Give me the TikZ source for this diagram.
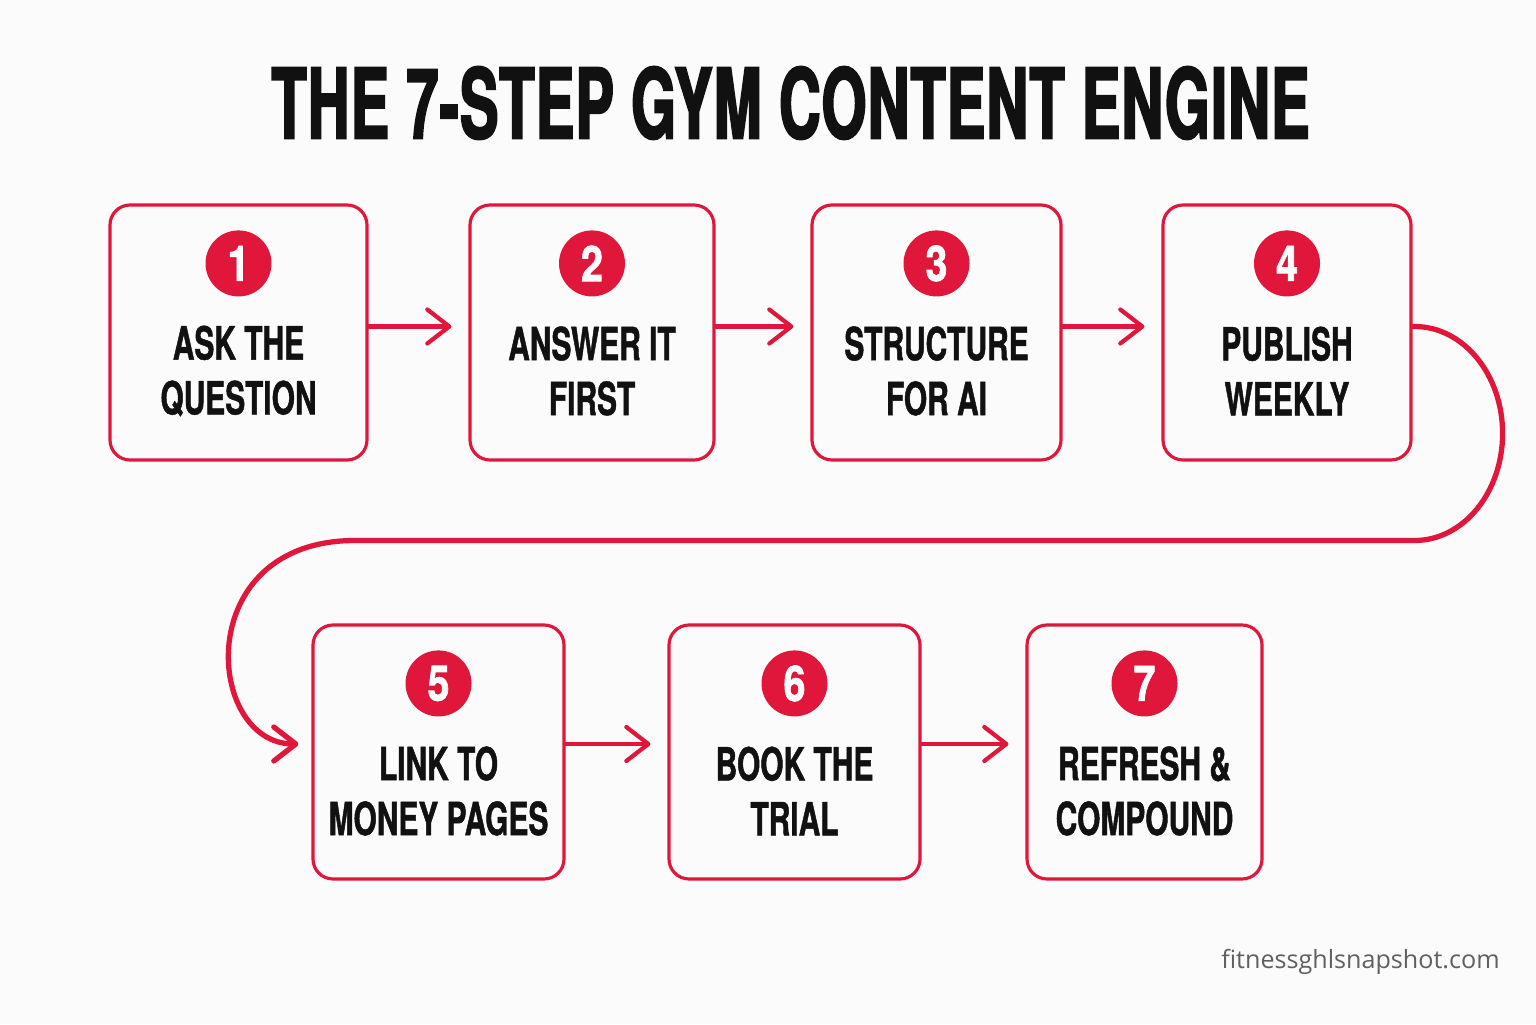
\documentclass[tikz,border=0pt]{standalone}
\usepackage{fontspec}
\setmainfont{TeX Gyre Heros}
\newfontfamily\titlefont{TeX Gyre Heros}[FakeStretch=0.595, BoldFeatures={FakeBold=2}, LetterSpace=1.2]
\newfontfamily\condfont{TeX Gyre Heros}[FakeStretch=0.655, BoldFeatures={FakeBold=1}]
\newfontfamily\numfont{TeX Gyre Heros}[FakeStretch=0.8, BoldFeatures={FakeBold=1.5}]
\newfontfamily\sitefont{Open Sans}
\usepackage{xcolor}
\usepackage{tikz}
\usetikzlibrary{arrows.meta,positioning}
\definecolor{gymred}{RGB}{224,22,58}
\definecolor{paper}{RGB}{251,251,251}
\definecolor{ink}{RGB}{17,17,17}

\begin{document}
\begin{tikzpicture}[
    stepbox/.style={rectangle, draw=gymred, fill=paper, line width=0.9pt, rounded corners=0.2cm, minimum height=2.55cm},
    num/.style={circle, fill=gymred, text=white, minimum size=0.66cm, inner sep=0pt, font=\numfont\bfseries\fontsize{14}{14}\selectfont},
    steptext/.style={align=center, text=ink, inner sep=0pt, font=\condfont\bfseries\fontsize{13}{15.6}\selectfont},
    arrow/.style={-{Straight Barb[length=2.2mm, width=3.4mm, round]}, gymred, line width=1.2pt, line cap=round, shorten >=0.17cm}]

\fill[paper] (0,0) rectangle (15.36,10.24);
\useasboundingbox (0,0) rectangle (15.36,10.24);

% Title
\node[text=ink, font=\titlefont\bfseries\fontsize{27.6}{28}\selectfont] (title) at (7.905, 9.21) {THE 7-STEP GYM CONTENT ENGINE};

% Top row
\node[stepbox, minimum width=2.57cm] (b1) at (2.385, 6.915) {};
\node[stepbox, minimum width=2.44cm] (b2) at (5.92, 6.915) {};
\node[stepbox, minimum width=2.49cm] (b3) at (9.365, 6.915) {};
\node[stepbox, minimum width=2.48cm] (b4) at (12.87, 6.915) {};

% Bottom row
\node[stepbox, minimum width=2.51cm, minimum height=2.54cm] (b5) at (4.385, 2.72) {};
\node[stepbox, minimum width=2.51cm, minimum height=2.54cm] (b6) at (7.945, 2.72) {};
\node[stepbox, minimum width=2.35cm, minimum height=2.54cm] (b7) at (11.445, 2.72) {};

% Numbers and texts
\node[num] (n1) at ([yshift=-0.6cm]b1.north) {1};
\node[steptext] (t1) at ([yshift=-0.385cm]b1.center) {ASK THE\\QUESTION};
\node[num] (n2) at ([yshift=-0.6cm]b2.north) {2};
\node[steptext] (t2) at ([yshift=-0.385cm]b2.center) {ANSWER IT\\FIRST};
\node[num] (n3) at ([yshift=-0.6cm]b3.north) {3};
\node[steptext] (t3) at ([yshift=-0.385cm]b3.center) {STRUCTURE\\FOR AI};
\node[num] (n4) at ([yshift=-0.6cm]b4.north) {4};
\node[steptext] (t4) at ([yshift=-0.385cm]b4.center) {PUBLISH\\WEEKLY};
\node[num] (n5) at ([yshift=-0.6cm]b5.north) {5};
\node[steptext] (t5) at ([yshift=-0.39cm]b5.center) {LINK TO\\MONEY PAGES};
\node[num] (n6) at ([yshift=-0.6cm]b6.north) {6};
\node[steptext] (t6) at ([yshift=-0.39cm]b6.center) {BOOK THE\\TRIAL};
\node[num] (n7) at ([yshift=-0.6cm]b7.north) {7};
\node[steptext] (t7) at ([yshift=-0.39cm]b7.center) {REFRESH \&\\COMPOUND};

% Arrows
\draw[arrow] ([yshift=0.06cm]b1.east) -- ([yshift=0.06cm]b2.west);
\draw[arrow] ([yshift=0.06cm]b2.east) -- ([yshift=0.06cm]b3.west);
\draw[arrow] ([yshift=0.06cm]b3.east) -- ([yshift=0.06cm]b4.west);
\draw[arrow] ([yshift=0.08cm]b5.east) -- ([yshift=0.08cm]b6.west);
\draw[arrow] ([yshift=0.08cm]b6.east) -- ([yshift=0.08cm]b7.west);

% Loop from step 4 down to step 5
\draw[arrow, line width=1.5pt, shorten >=0.13cm] ([yshift=0.06cm]b4.east) -- ++(0.02,0)
    arc[start angle=90, end angle=-90, x radius=0.88cm, y radius=1.07cm]
    -- (3.55,4.835) .. controls (1.90,4.835) and (2.05,2.80) .. ([yshift=0.08cm]b5.west);

\node[anchor=east, text=gray!75!black, font=\sitefont\fontsize{7.15}{8}\selectfont] (site) at (15.12, 0.62) {fitnessghlsnapshot.com};

\end{tikzpicture}
\end{document}
